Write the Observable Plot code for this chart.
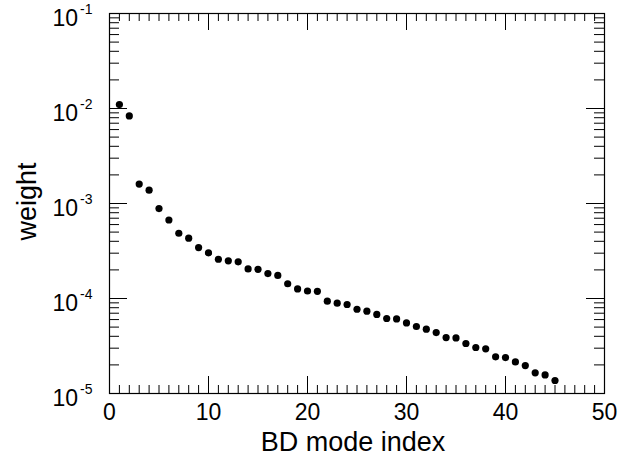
<!DOCTYPE html>
<html>
<head>
<meta charset="utf-8">
<script src="https://cdn.jsdelivr.net/npm/d3@7"></script>
<script src="https://cdn.jsdelivr.net/npm/@observablehq/plot@0.6"></script>
<style>
  html, body { margin: 0; padding: 0; background: #fff; }
  #chart svg { display: block; }
</style>
</head>
<body>
<div id="chart"></div>
<script>
// ---- data ----
const modeIndex = [1,2,3,4,5,6,7,8,9,10,11,12,13,14,15,16,17,18,19,20,21,22,23,24,25,26,27,28,29,30,31,32,33,34,35,36,37,38,39,40,41,42,43,44,45];
const weight = [0.0110,0.00835,0.00160,0.00138,8.85e-4,6.70e-4,4.86e-4,4.31e-4,3.44e-4,3.02e-4,
  2.59e-4,2.49e-4,2.43e-4,2.05e-4,2.03e-4,1.83e-4,1.75e-4,1.43e-4,1.26e-4,1.20e-4,
  1.19e-4,9.37e-5,8.93e-5,8.65e-5,7.71e-5,7.35e-5,6.79e-5,6.16e-5,6.10e-5,5.53e-5,
  5.07e-5,4.75e-5,4.38e-5,3.88e-5,3.85e-5,3.36e-5,3.05e-5,2.95e-5,2.43e-5,2.39e-5,
  2.15e-5,1.97e-5,1.65e-5,1.57e-5,1.37e-5];

const xMajorTicks = [0,10,20,30,40,50];
const xTickLabels = ["0","10","20","30","40","50"];
const xMinorTicks = [1,2,3,4,5,6,7,8,9,11,12,13,14,15,16,17,18,19,21,22,23,24,25,26,27,28,29,
  31,32,33,34,35,36,37,38,39,41,42,43,44,45,46,47,48,49];
const yMajorTicks = [1e-5,1e-4,1e-3,1e-2,1e-1];
const yExponents = ["-5","-4","-3","-2","-1"];
const yMinorTicks = [2e-5,3e-5,4e-5,5e-5,6e-5,7e-5,8e-5,9e-5,
  2e-4,3e-4,4e-4,5e-4,6e-4,7e-4,8e-4,9e-4,
  2e-3,3e-3,4e-3,5e-3,6e-3,7e-3,8e-3,9e-3,
  2e-2,3e-2,4e-2,5e-2,6e-2,7e-2,8e-2,9e-2];
const xTitle = "BD mode index";
const yTitle = "weight";

const points = modeIndex.map((x, i) => ({x, y: weight[i]}));
const xLab = xMajorTicks.map((v, i) => ({v, t: xTickLabels[i]}));
const yLab = yMajorTicks.map((v, i) => ({v, e: yExponents[i]}));

const yMin = yMajorTicks[0], yMax = yMajorTicks[yMajorTicks.length - 1];
const xMin = xMajorTicks[0], xMax = xMajorTicks[xMajorTicks.length - 1];
const font = "'Liberation Sans', Helvetica, Arial, sans-serif";

const chart = Plot.plot({
  width: 621,
  height: 458,
  marginLeft: 109,
  marginRight: 17,
  marginTop: 13,
  marginBottom: 65,
  style: {fontFamily: font, background: "#fff", color: "#000", overflow: "visible"},
  x: {domain: [xMin, xMax], axis: null},
  y: {type: "log", domain: [yMin, yMax], axis: null},
  marks: [
    // bottom ticks (inward)
    Plot.ruleX(xMinorTicks, {x: d => d, y1: () => yMin, y2: () => yMin, insetBottom: 8, stroke: "#000"}),
    Plot.ruleX(xMajorTicks, {x: d => d, y1: () => yMin, y2: () => yMin, insetBottom: 17, stroke: "#000"}),
    // top ticks
    Plot.ruleX(xMinorTicks, {x: d => d, y1: () => yMax, y2: () => yMax, insetTop: 8, stroke: "#000"}),
    Plot.ruleX(xMajorTicks, {x: d => d, y1: () => yMax, y2: () => yMax, insetTop: 17, stroke: "#000"}),
    // left ticks
    Plot.ruleY(yMinorTicks, {y: d => d, x1: () => xMin, x2: () => xMin, insetLeft: 10, stroke: "#000"}),
    Plot.ruleY(yMajorTicks, {y: d => d, x1: () => xMin, x2: () => xMin, insetLeft: 18, stroke: "#000"}),
    // right ticks
    Plot.ruleY(yMinorTicks, {y: d => d, x1: () => xMax, x2: () => xMax, insetRight: 10, stroke: "#000"}),
    Plot.ruleY(yMajorTicks, {y: d => d, x1: () => xMax, x2: () => xMax, insetRight: 18, stroke: "#000"}),
    Plot.frame({stroke: "#000", strokeWidth: 1.2}),
    // data
    Plot.dot(points, {x: "x", y: "y", r: 3.6, fill: "#000", stroke: "none"}),
    // x tick labels
    Plot.text(xLab, {x: "v", y: () => yMin, text: "t", dy: 26.5, lineAnchor: "bottom", fontSize: 23, fill: "#000"}),
    // y tick labels: 10 with superscript exponent
    Plot.text(yLab, {x: () => xMin, y: "v", text: () => "10", textAnchor: "end", dx: -31.5, dy: 12.6, lineAnchor: "bottom", fontSize: 23, fill: "#000"}),
    Plot.text(yLab, {x: () => xMin, y: "v", text: "e", textAnchor: "start", dx: -29.5, dy: 0.5, lineAnchor: "bottom", fontSize: 14, fill: "#000"}),
    // axis titles
    Plot.text([xTitle], {frameAnchor: "bottom", text: d => d, textAnchor: "middle", dy: 57, dx: -4, lineAnchor: "bottom", fontSize: 27, fill: "#000"}),
    Plot.text([yTitle], {frameAnchor: "left", text: d => d, textAnchor: "middle", rotate: -90, dx: -74, dy: -2, lineAnchor: "bottom", fontSize: 27, fill: "#000"})
  ]
});
document.getElementById("chart").appendChild(chart);
</script>
</body>
</html>
